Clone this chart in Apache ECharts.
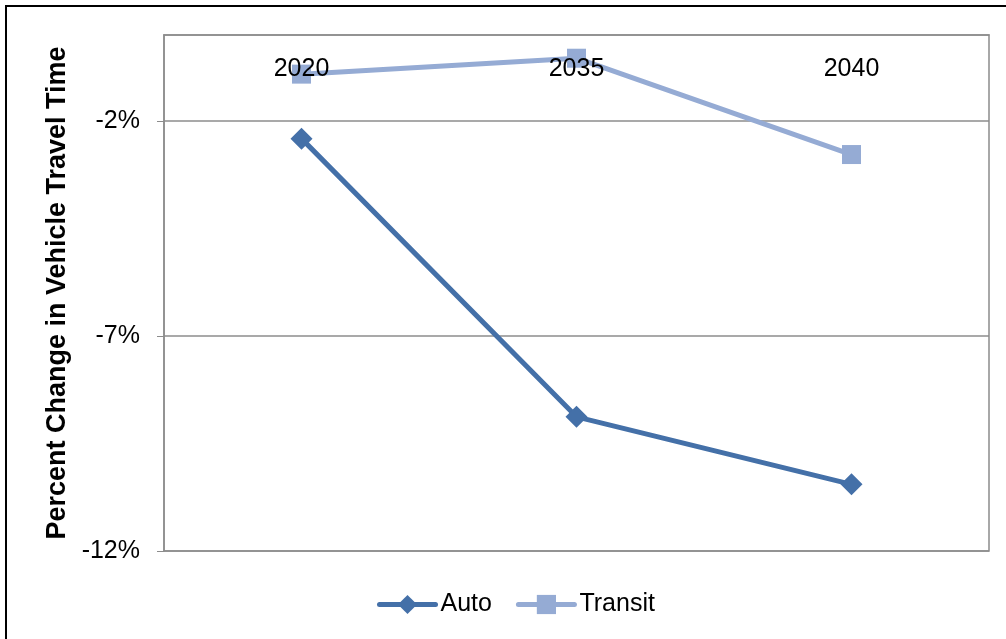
<!DOCTYPE html>
<html>
<head>
<meta charset="utf-8">
<script src="https://cdn.jsdelivr.net/npm/echarts@6/dist/echarts.min.js"></script>
<style>html,body{margin:0;padding:0;background:#fff;}#c{width:1006px;height:639px;}</style>
</head>
<body>
<div id="c"></div>
<script>
const categories = ['2020', '2035', '2040'];
const autoValues = [-2.41, -8.88, -10.45];
const transitValues = [-0.91, -0.54, -2.78];
const yTicks = [-12, -7, -2];

const chart = echarts.init(document.getElementById('c'));
const font = 'Liberation Sans, Arial, sans-serif';
chart.setOption({
  animation: false,
  backgroundColor: '#fff',
  graphic: [{
    type: 'rect', shape: { x: 6, y: 6, width: 1100, height: 700 },
    style: { fill: 'none', stroke: '#000', lineWidth: 2 }, silent: true, z: 100
  }],
  grid: { left: 164, top: 35, right: 17, bottom: 88, show: true, borderColor: '#8c8c8c', borderWidth: 1.5, backgroundColor: 'transparent' },
  legend: {
    bottom: 17, left: 372, itemWidth: 56, itemHeight: 24, itemGap: 24,
    lineStyle: { width: 5, cap: 'round' },
    textStyle: { fontFamily: font, fontSize: 25, color: '#000' },
    data: ['Auto', 'Transit']
  },
  xAxis: {
    type: 'category', position: 'top', data: categories, boundaryGap: true, z: 10,
    axisLine: { lineStyle: { color: '#8c8c8c', width: 1.5 } },
    axisTick: { inside: true, length: 6, lineStyle: { color: '#8c8c8c' } },
    axisLabel: { inside: true, margin: 22, fontFamily: font, fontSize: 25, color: '#000' }
  },
  yAxis: {
    type: 'value', min: -12, max: 0, interval: 5,
    name: 'Percent Change in Vehicle Travel Time', nameLocation: 'middle', nameGap: 93,
    nameTextStyle: { fontFamily: font, fontSize: 27, fontWeight: 'bold', color: '#000' },
    axisLine: { show: true, lineStyle: { color: '#8c8c8c', width: 1.5 } },
    axisTick: { show: true, length: 7, customValues: yTicks, lineStyle: { color: '#8c8c8c' } },
    splitLine: { lineStyle: { color: '#8c8c8c', width: 1.5 } },
    axisLabel: {
      margin: 24, fontFamily: font, fontSize: 25, color: '#000',
      customValues: yTicks,
      formatter: v => v + '%'
    }
  },
  series: [
    {
      name: 'Auto', type: 'line', data: autoValues, symbol: 'diamond', symbolSize: 22,
      lineStyle: { color: '#4470a8', width: 5 }, itemStyle: { color: '#4470a8' }, z: 3
    },
    {
      name: 'Transit', type: 'line', data: transitValues, symbol: 'rect', symbolSize: 19,
      lineStyle: { color: '#95abd4', width: 5 }, itemStyle: { color: '#95abd4' }, z: 2
    }
  ]
});
</script>
</body>
</html>
